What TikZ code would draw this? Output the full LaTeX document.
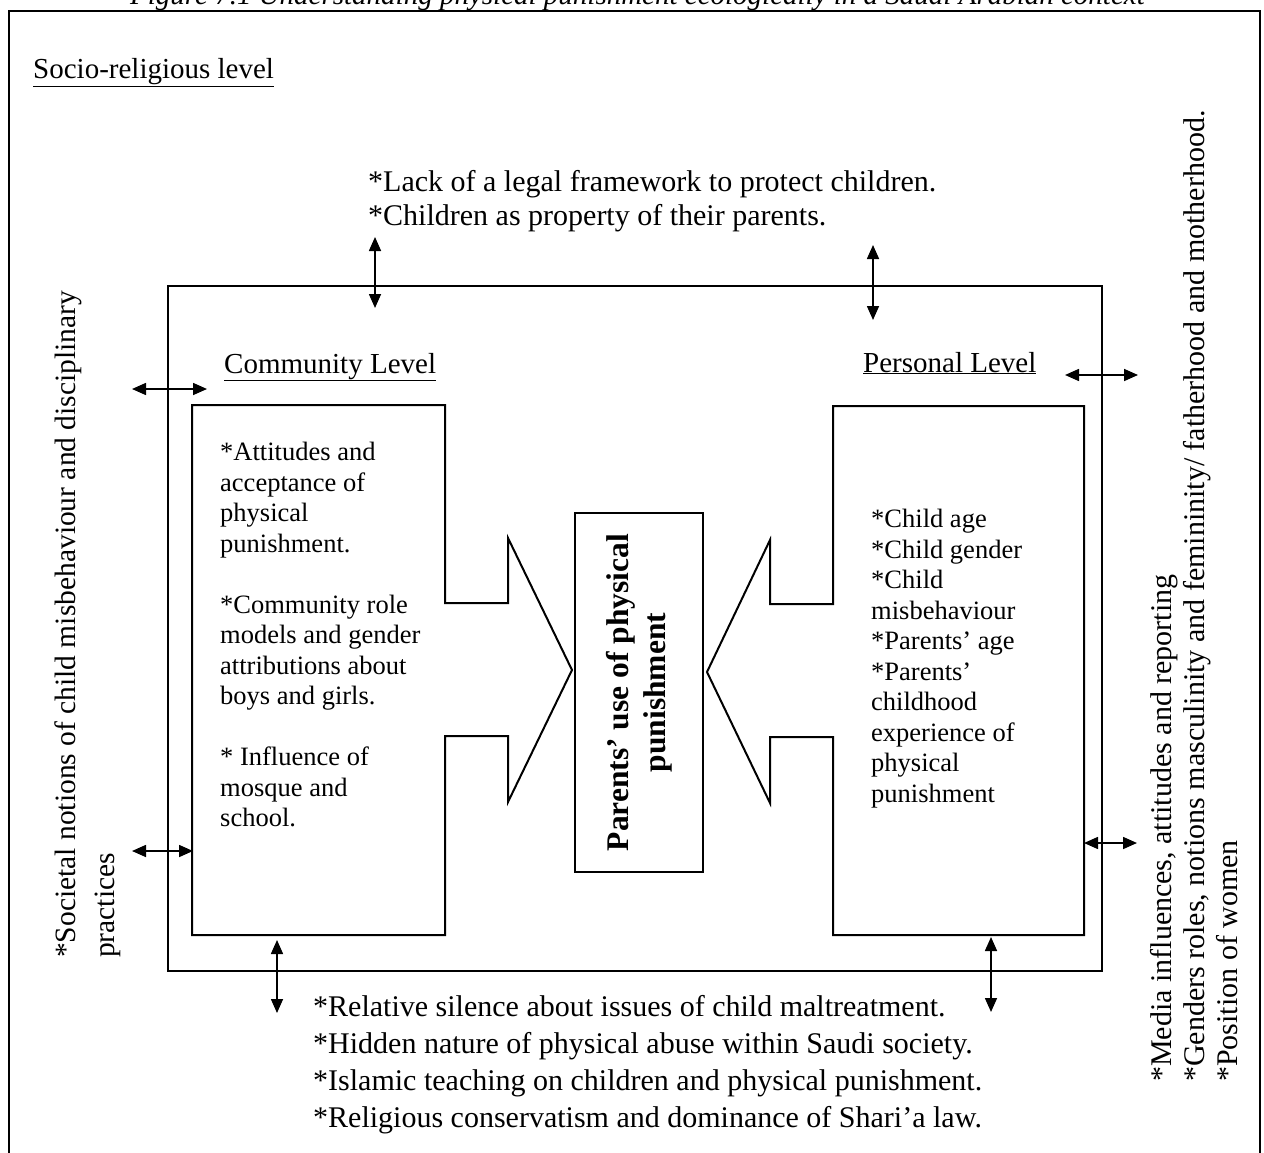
\documentclass[tikz,border=0pt]{standalone}
\usepackage{fontspec}
\setmainfont{Liberation Serif}
\usetikzlibrary{arrows.meta}

\tikzset{
  frame/.style={line width=2.4pt},
  lvlbox/.style={line width=2pt, line join=miter},
  dblarrow/.style={{Triangle[length=14pt,width=12pt]}-{Triangle[length=14pt,width=12pt]}, line width=1.6pt},
  outtext/.style={font=\fontsize{30}{34}\selectfont, align=left, inner sep=0pt, anchor=north west},
  boxtext/.style={font=\fontsize{26.5}{30.5}\selectfont, align=left, inner sep=0pt, anchor=north west},
  head/.style={font=\fontsize{29}{33}\selectfont, inner sep=0pt, anchor=base west}
}

\begin{document}
\begin{tikzpicture}[x=1pt, y=-1pt]
  \useasboundingbox (0,0) rectangle (1264,1153);
  \clip (0,0) rectangle (1264,1153);

  % caption, cut off by the page
  \node[head, font=\fontsize{29}{33}\selectfont\itshape] (caption) at (130,5) {Figure 7.1 Understanding physical punishment ecologically in a Saudi Arabian context};

  % socio-religious level
  \draw[frame] (9,1170) -- (9,11) -- (1260,11) -- (1260,1170);
  \node[head] (socio) at (33,79) {\underline{Socio-religious level}};

  \node[outtext] (law) at (368,170) {*Lack of a legal framework to protect children.\\*Children as property of their parents.};
  \node[outtext, font=\fontsize{30}{37}\selectfont] (silence) at (313,995) {*Relative silence about issues of child maltreatment.\\*Hidden nature of physical abuse within Saudi society.\\*Islamic teaching on children and physical punishment.\\*Religious conservatism and dominance of Shari’a law.};
  \node[outtext, rotate=90, font=\fontsize{29.5}{39}\selectfont] (notions) at (55,958) {*Societal notions of child misbehaviour and disciplinary\\practices};
  \node[outtext, rotate=90, font=\fontsize{30}{33}\selectfont] (media) at (1150,1082) {*Media influences, attitudes and reporting\\*Genders roles, notions masculinity and femininity/ fatherhood and motherhood.\\*Position of women};

  % community and personal level
  \draw[frame] (168,286) rectangle (1102,971);
  \node[head] (comm) at (224,373) {\underline{Community Level}};
  \node[head] (pers) at (863,372) {\underline{Personal Level}};

  \draw[lvlbox] (192,405) -- (445,405) -- (445,603) -- (508,603) -- (508,538) -- (572,670)
    -- (508,802) -- (508,736) -- (445,736) -- (445,935) -- (192,935) -- cycle;
  \draw[lvlbox] (1084,406) -- (833,406) -- (833,604) -- (770,604) -- (770,540) -- (707,672)
    -- (770,803) -- (770,737) -- (833,737) -- (833,935) -- (1084,935) -- cycle;

  \node[boxtext] (commtext) at (220,442) {*Attitudes and\\acceptance of\\physical\\punishment.\\[30.5pt]*Community role\\models and gender\\attributions about\\boys and girls.\\[30.5pt]* Influence of\\mosque and\\school.};
  \node[boxtext] (perstext) at (871,509) {*Child age\\*Child gender\\*Child\\misbehaviour\\*Parents’ age\\*Parents’\\childhood\\experience of\\physical\\punishment};

  \node[draw, lvlbox, rotate=90, minimum width=359pt, minimum height=128pt, align=center,
    font=\fontsize{31.5}{37}\selectfont\bfseries] (parents) at (639,692.5) {Parents’ use of physical\\punishment};

  % two-way influences
  \foreach \nm/\ax/\ay/\bx/\by in {lawL/375/237/375/308, lawR/873/245/873/320,
      commT/132/389/207/389, commB/132/851/193/851, persT/1065/375/1138/375,
      persB/1084/843/1137/843, silL/277/1013/277/940, silR/991/1012/991/937}
  {
    \coordinate (\nm-a) at (\ax,\ay);
    \coordinate (\nm-b) at (\bx,\by);
    \draw[dblarrow] (\nm-a) -- (\nm-b);
  }
\end{tikzpicture}
\end{document}
